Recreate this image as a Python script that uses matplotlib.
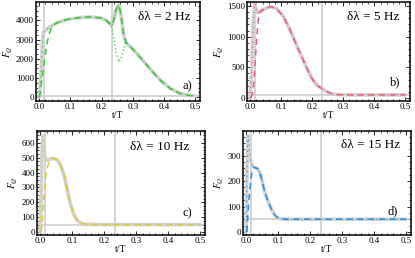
import numpy as np
import matplotlib.pyplot as plt
from matplotlib.ticker import MultipleLocator

plt.rcParams['font.family'] = ['Liberation Serif', 'DejaVu Serif']
plt.rcParams['mathtext.fontset'] = 'stix'

# panel a: delta lambda = 2 Hz
xa_gray = [0, 0.003, 0.007, 0.011, 0.014, 0.025, 0.04, 0.06, 0.09, 0.13, 0.165, 0.2, 0.215, 0.225, 0.233, 0.24, 0.247, 0.255, 0.262, 0.27, 0.278, 0.3, 0.33, 0.36, 0.39, 0.42, 0.45, 0.48, 0.5]
ya_gray = [0, 500, 1600, 2900, 3380, 3550, 3720, 3900, 4050, 4150, 4180, 4120, 4000, 3850, 3740, 4100, 4600, 4800, 4300, 3300, 2850, 2500, 1950, 1380, 850, 450, 200, 90, 60]
xa_dash = [0, 0.004, 0.008, 0.013, 0.018, 0.024, 0.03, 0.04, 0.05, 0.06]
ya_dash = [0, 200, 800, 1400, 2000, 2700, 3200, 3650, 3800, 3900]
xa_dot = [0.215, 0.225, 0.233, 0.24, 0.247, 0.255, 0.262, 0.268, 0.278]
ya_dot = [4000, 3850, 3600, 3000, 2300, 1830, 2050, 2350, 2850]

# panel b: delta lambda = 5 Hz
xb_gray = [0, 0.005, 0.01, 0.015, 0.019, 0.023, 0.03, 0.045, 0.065, 0.085, 0.107, 0.125, 0.138, 0.155, 0.17, 0.185, 0.2, 0.215, 0.233, 0.25, 0.264, 0.28, 0.3, 0.4, 0.5]
yb_gray = [0, 400, 1200, 1540, 1450, 1390, 1400, 1450, 1490, 1460, 1330, 1150, 1000, 800, 630, 460, 310, 210, 145, 95, 65, 55, 50, 50, 50]
xb_dash = [0.003, 0.008, 0.013, 0.017, 0.021, 0.026, 0.03, 0.035]
yb_dash = [0, 80, 300, 630, 950, 1270, 1380, 1420]

# panel c: delta lambda = 10 Hz
xc_gray = [0, 0.003, 0.006, 0.0085, 0.012, 0.016, 0.022, 0.03, 0.039, 0.05, 0.059, 0.067, 0.075, 0.083, 0.09, 0.098, 0.106, 0.115, 0.127, 0.14, 0.2, 0.3, 0.4, 0.5]
yc_gray = [0, 250, 560, 645, 560, 500, 480, 490, 496, 490, 470, 430, 380, 300, 225, 165, 115, 80, 60, 52, 50, 50, 50, 50]
xc_dash = [0.003, 0.006, 0.009, 0.013, 0.018, 0.023, 0.028, 0.035]
yc_dash = [0, 60, 160, 280, 380, 440, 470, 490]

# panel d: delta lambda = 15 Hz
xd_gray = [0, 0.002, 0.004, 0.006, 0.009, 0.013, 0.018, 0.024, 0.03, 0.036, 0.042, 0.05, 0.058, 0.066, 0.073, 0.081, 0.089, 0.097, 0.105, 0.12, 0.2, 0.3, 0.4, 0.5]
yd_gray = [0, 200, 345, 378, 330, 287, 262, 255, 252, 248, 235, 200, 157, 128, 106, 84, 67, 57, 52, 50, 50, 50, 50, 50]
xd_dash = [0.002, 0.005, 0.008, 0.012, 0.016, 0.02, 0.024]
yd_dash = [0, 60, 120, 175, 220, 245, 255]

labels = ['δλ = 2 Hz', 'δλ = 5 Hz', 'δλ = 10 Hz', 'δλ = 15 Hz']
tags = ['a)', 'b)', 'c)', 'd)']
colors = ['#2dcc2d', '#f05a78', '#dcc832', '#1e8fe6']

W, H = 415, 258
fig = plt.figure(figsize=(W / 100, H / 100), dpi=100)

# pixel boxes (left, right, top, bottom)
boxes = [(36, 200, 2, 101), (247, 410, 2, 101), (37, 205, 131, 235), (243, 411, 131, 235)]
ylims = [(-200, 4960), (-50, 1565), (-20, 680), (-12, 397)]
ysteps = [(1000, 250), (500, 100), (100, 25), (100, 25)]
text_pos = [(164, 17), (373, 17), (160, 147), (371, 145)]
tag_pos = [(187, 86), (395, 82), (187, 213), (393, 211)]

grays = [(xa_gray, ya_gray), (xb_gray, yb_gray), (xc_gray, yc_gray), (xd_gray, yd_gray)]
dashes = [(xa_dash, ya_dash), (xb_dash, yb_dash), (xc_dash, yc_dash), (xd_dash, yd_dash)]

for i in range(4):
    l, r, t, b = boxes[i]
    ax = fig.add_axes([l / W, 1 - b / H, (r - l) / W, (b - t) / H])
    gx, gy = grays[i]
    dx, dy = dashes[i]
    c = colors[i]

    ax.axvline(0.015, color='#cccccc', lw=1.2, zorder=1)
    ax.axvline(0.233, color='#cccccc', lw=1.2, zorder=1)
    ax.axhline(50, color='#cccccc', lw=1.2, zorder=1)

    ax.plot(gx, gy, color='#d2d2d2', lw=2.6, zorder=2, solid_capstyle='round')
    # dotted curve follows the exact one except where it departs
    ax.plot(gx, gy, color=c, lw=0.8, ls=(0, (1, 3.5)), zorder=3)
    if i == 0:
        ax.plot(xa_dot, ya_dot, color=c, lw=0.9, ls=(0, (1, 2)), zorder=3)
    # dashed curve: late start, then merges
    x_full = list(dx) + [x for x in gx if x > dx[-1]]
    y_full = list(dy) + [y for x, y in zip(gx, gy) if x > dx[-1]]
    ax.plot(x_full, y_full, color=c, lw=1.1, ls=(0, (4, 3)), zorder=4)

    ax.set_xlim(-0.01, 0.515)
    ax.set_ylim(*ylims[i])
    ax.xaxis.set_major_locator(MultipleLocator(0.1))
    ax.xaxis.set_minor_locator(MultipleLocator(0.02))
    ax.yaxis.set_major_locator(MultipleLocator(ysteps[i][0]))
    ax.yaxis.set_minor_locator(MultipleLocator(ysteps[i][1]))
    ax.set_xticks(np.arange(0, 0.51, 0.1))
    ax.set_xticklabels(['0.0', '0.1', '0.2', '0.3', '0.4', '0.5'])
    ax.tick_params(which='both', direction='in', top=True, right=True, labelsize=6.5, pad=1.5)
    ax.tick_params(which='major', length=3, width=0.6)
    ax.tick_params(which='minor', length=1.5, width=0.5)
    for s in ax.spines.values():
        s.set_linewidth(1.1)

    ax.set_xlabel('t/T', fontsize=7, labelpad=0)
    ax.set_ylabel(r'$F_Q$', fontsize=7, labelpad=1)

    tx, ty = text_pos[i]
    fig.text(tx / W, 1 - ty / H, labels[i], fontsize=9.5, ha='center', va='center')
    px, py = tag_pos[i]
    fig.text(px / W, 1 - py / H, tags[i], fontsize=9, ha='center', va='center')

fig.savefig('out.png', dpi=100)
